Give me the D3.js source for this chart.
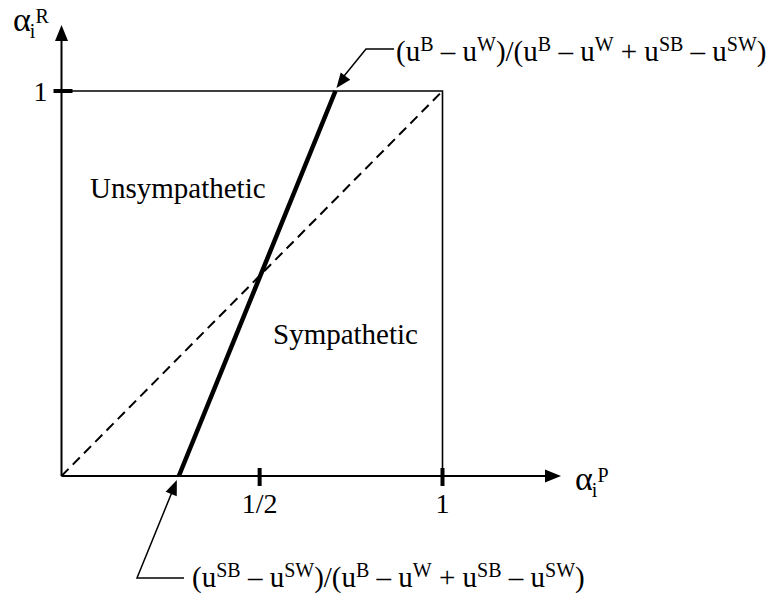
<!DOCTYPE html>
<html>
<head>
<meta charset="utf-8">
<script src="https://cdn.jsdelivr.net/npm/d3@7"></script>
<style>
  body { margin: 0; background: #fff; }
  svg text { font-family: "Times New Roman", "Liberation Serif", serif; fill: #000; }
</style>
</head>
<body>
<svg id="chart" width="773" height="597"></svg>
<script>
// values (unit square, x = alpha_i^P, y = alpha_i^R)
const xTicks = [0.52, 1];
const xTickLabels = ["1/2", "1"];
const yTicks = [1];
const yTickLabels = ["1"];
const diagonal = [[0, 0], [1, 1]];
const boundary = [[0.308, 0], [0.719, 1]];
const regionNames = ["Unsympathetic", "Sympathetic"];
// formula pieces: [text, is superscript]
const topFormula = [["(u", 0], ["B", 1], [" – u", 0], ["W", 1], [")/(u", 0], ["B", 1], [" – u", 0], ["W", 1],
  [" + u", 0], ["SB", 1], [" – u", 0], ["SW", 1], [")", 0]];
const bottomFormula = [["(u", 0], ["SB", 1], [" – u", 0], ["SW", 1], [")/(u", 0], ["B", 1], [" – u", 0], ["W", 1],
  [" + u", 0], ["SB", 1], [" – u", 0], ["SW", 1], [")", 0]];

const svg = d3.select('#chart');
const x = d3.scaleLinear().domain([0, 1]).range([61.5, 442.5]);
const y = d3.scaleLinear().domain([0, 1]).range([476, 91]);
const line = d3.line().x(d => x(d[0])).y(d => y(d[1]));

// filled triangle pointing from (x0,y0) to tip (x1,y1)
function arrowHead(x0, y0, x1, y1, len, half) {
  let a = Math.atan2(y1 - y0, x1 - x0);
  let bx = x1 - len * Math.cos(a), by = y1 - len * Math.sin(a);
  let px = -Math.sin(a) * half, py = Math.cos(a) * half;
  svg.append('path')
    .attr('d', `M${x1},${y1}L${bx + px},${by + py}L${bx - px},${by - py}Z`)
    .attr('fill', '#000');
}

// box
svg.append('path')
  .attr('d', `M${x(0)},${y(1)}H${x(1)}V${y(0)}`)
  .attr('fill', 'none').attr('stroke', '#000').attr('stroke-width', 1.6);

// axes with arrows
svg.append('line').attr('x1', x(0)).attr('y1', y(0)).attr('x2', 548).attr('y2', y(0))
  .attr('stroke', '#000').attr('stroke-width', 2);
arrowHead(x(0), y(0), 561, y(0), 16, 6.5);
svg.append('line').attr('x1', x(0)).attr('y1', y(0)).attr('x2', x(0)).attr('y2', 38)
  .attr('stroke', '#000').attr('stroke-width', 2);
arrowHead(x(0), y(0), x(0), 25, 16, 6.5);

// ticks
svg.selectAll('.xtick').data(xTicks).enter().append('line')
  .attr('x1', d => x(d)).attr('x2', d => x(d)).attr('y1', y(0) - 8).attr('y2', y(0) + 10)
  .attr('stroke', '#000').attr('stroke-width', 4);
svg.selectAll('.xlab').data(xTicks).enter().append('text')
  .attr('x', d => x(d)).attr('y', y(0) + 37)
  .attr('text-anchor', 'middle').attr('font-size', 28)
  .text((d, i) => xTickLabels[i]);
svg.selectAll('.ytick').data(yTicks).enter().append('line')
  .attr('x1', x(0) - 8).attr('x2', x(0) + 11).attr('y1', d => y(d)).attr('y2', d => y(d))
  .attr('stroke', '#000').attr('stroke-width', 4);
svg.selectAll('.ylab').data(yTicks).enter().append('text')
  .attr('x', x(0) - 14).attr('y', d => y(d) + 10)
  .attr('text-anchor', 'end').attr('font-size', 28)
  .text((d, i) => yTickLabels[i]);

// diagonal and boundary
svg.append('path').datum(diagonal).attr('d', line)
  .attr('fill', 'none').attr('stroke', '#000').attr('stroke-width', 2).attr('stroke-dasharray', '10,6');
svg.append('path').datum(boundary).attr('d', line)
  .attr('fill', 'none').attr('stroke', '#000').attr('stroke-width', 4.5);

// region labels
svg.append('text').attr('x', 90).attr('y', 198).attr('font-size', 29).text(regionNames[0]);
svg.append('text').attr('x', 273).attr('y', 344).attr('font-size', 29).text(regionNames[1]);

// axis names
function axisName(x0, y0, sup) {
  let t = svg.append('text').attr('x', x0).attr('y', y0).attr('font-size', 34);
  t.append('tspan').text('α');
  t.append('tspan').attr('font-size', 20).attr('dx', -1).attr('dy', 7).text('i');
  t.append('tspan').attr('font-size', 20).attr('dy', -15).text(sup);
}
axisName(13, 31, 'R');
axisName(575, 490, 'P');

// formula text with superscripts
function formula(x0, y0, parts) {
  let t = svg.append('text').attr('x', x0).attr('y', y0).attr('font-size', 29);
  let up = false;
  parts.forEach(p => {
    let s = t.append('tspan').text(p[0]);
    if (p[1]) {
      s.attr('font-size', 20).attr('dy', up ? 0 : -10);
      up = true;
    } else {
      if (up) s.attr('dy', 10);
      up = false;
    }
  });
}

// top annotation
let tTop = [x(boundary[1][0]) + 1, y(1) - 3];
svg.append('path').attr('d', `M${tTop[0] + 6},${tTop[1] - 10}L366,49H394`)
  .attr('fill', 'none').attr('stroke', '#000').attr('stroke-width', 1.5);
arrowHead(366, 49, tTop[0], tTop[1], 15, 6);
formula(396, 61, topFormula);

// bottom annotation
let tBot = [x(boundary[0][0]) - 2, y(0) + 4];
svg.append('path').attr('d', `M${tBot[0] - 4},${tBot[1] + 10}L137,578H184`)
  .attr('fill', 'none').attr('stroke', '#000').attr('stroke-width', 1.5);
arrowHead(137, 578, tBot[0], tBot[1], 15, 6);
formula(192, 587, bottomFormula);
</script>
</body>
</html>
